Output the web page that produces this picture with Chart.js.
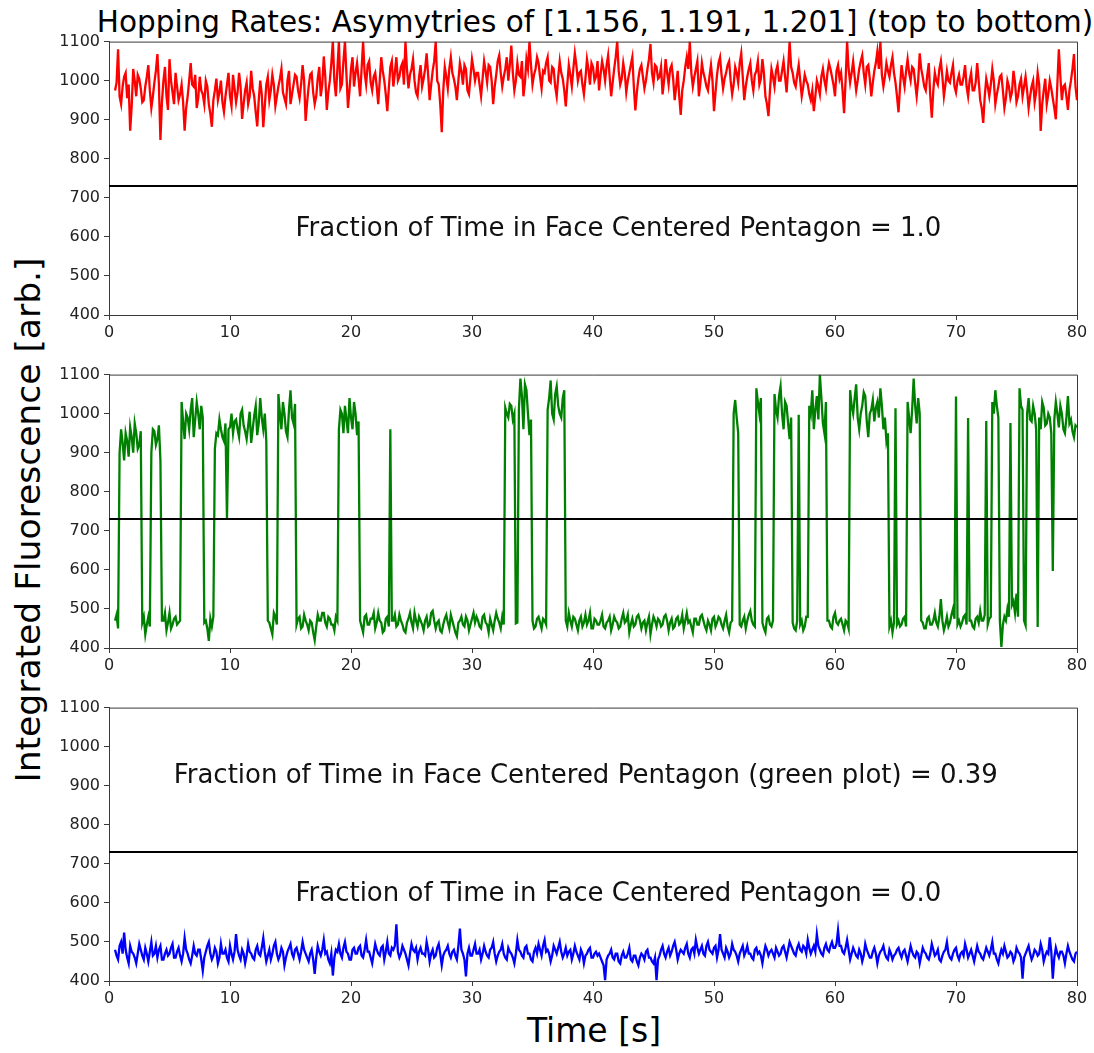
<!DOCTYPE html>
<html>
<head>
<meta charset="utf-8">
<script src="https://cdn.jsdelivr.net/npm/chart.js@4.4.1/dist/chart.umd.min.js"></script>
<style>
  html, body { margin: 0; padding: 0; background: #ffffff; }
  body { width: 1094px; height: 1053px; position: relative; overflow: hidden; font-family: "DejaVu Sans", sans-serif; }
  canvas.panel { position: absolute; left: 0; }
  .lbl { position: absolute; color: #000; white-space: nowrap; font-family: "DejaVu Sans", sans-serif; line-height: 1; }
</style>
</head>
<body>
<div class="lbl" id="title" style="left:595px; top:8px; font-size:29.5px; transform:translateX(-50%);">Hopping Rates: Asymytries of [1.156, 1.191, 1.201] (top to bottom)</div>
<div class="lbl" id="ylab" style="left:28px; top:520px; font-size:34.5px; transform:translate(-50%,-50%) rotate(-90deg);">Integrated Fluorescence [arb.]</div>
<div class="lbl" id="xlab" style="left:594px; top:1030px; font-size:33px; transform:translate(-50%,-50%);">Time [s]</div>
<canvas class="panel" id="c1" width="1094" height="317" style="top:28px;"></canvas>
<canvas class="panel" id="c2" width="1094" height="317" style="top:361px;"></canvas>
<canvas class="panel" id="c3" width="1094" height="317" style="top:694px;"></canvas>
<script>
// ---- sampling grid (seconds) ----
const T_START = 0.5;
const T_STEP = 0.125;
const THRESHOLD = 730;
const X_TICKS = [0, 10, 20, 30, 40, 50, 60, 70, 80];
const Y_TICKS = [400, 500, 600, 700, 800, 900, 1000, 1100];

// ---- top panel (red), asymmetry 1.156 ---- (one row = 5 s)
const redValues = [
  975,995,1080,960,940,985,1010,1020,955,990,872,935,1030,1000,960,1015,1005,980,945,950,985,1010,1040,975,930,960,995,1025,1068,990,848,945,1000,1035,960,925,1055,1000,970,940,
  1020,985,950,965,990,945,872,930,960,1000,1045,990,985,1015,930,955,1010,975,965,940,1000,985,940,915,882,950,975,1005,950,970,1000,945,920,960,990,1020,960,935,1015,980,
  945,970,1020,985,902,940,975,995,940,960,1025,980,960,920,883,950,1000,965,881,935,990,1010,950,975,1015,990,935,960,985,1005,1030,970,955,940,1000,1025,940,965,990,1015,
  1010,975,955,990,1040,1000,897,945,985,1015,1020,970,940,960,1005,1035,960,990,1062,1010,925,970,1000,1045,1100,1000,960,1030,1100,980,990,1050,1100,1015,930,975,1030,1060,985,1020,
  1045,1005,960,1030,1100,1020,990,1040,1050,995,975,1010,1020,985,940,1000,1060,1025,1000,965,922,980,1035,1050,985,1020,1060,1000,1010,1035,1045,990,1100,1030,980,1015,1030,1055,1000,970,
  960,1010,1040,985,1005,1030,1070,1015,950,990,1025,1050,1100,1000,990,940,868,975,1035,1010,980,1030,1060,1020,1005,985,950,1000,1045,1025,990,1040,1030,975,965,1010,1055,1030,1000,1020,
  1020,990,960,1005,1050,1025,995,1040,1035,1000,940,985,1015,1050,1065,1020,985,1010,1030,1060,1000,1040,1090,1020,975,1000,1045,1015,1010,1050,960,995,1055,1030,1100,1040,990,1015,1030,1060,
  1045,1010,980,1025,1020,1045,1060,1000,995,1035,1030,985,960,1010,1050,1020,1005,975,934,990,1040,1015,985,1030,1070,1040,1000,1020,1025,990,965,1005,1055,1030,990,1045,1035,1000,1010,1050,
  975,1015,1050,1030,1000,1040,1065,1010,960,995,1030,1060,1100,1025,990,1005,1045,1020,970,1000,1020,1040,1060,985,924,970,1005,1030,1040,1010,980,1000,1030,1055,1094,1020,995,1040,1035,1005,
  1010,1035,965,1000,1055,1020,990,1030,1040,1005,950,985,1025,960,912,975,1000,1035,1060,1030,1100,1020,985,1010,1030,1050,960,995,1045,1020,1005,985,975,1010,1040,1000,922,970,1015,1045,
  1060,1015,980,1005,1020,1040,1050,1000,965,990,1035,1020,995,1045,1070,1010,950,985,1010,1030,1045,1000,975,1015,1025,1050,990,1005,1055,1020,960,940,909,975,1030,1010,985,1025,1040,1000,
  1000,1025,1050,1010,970,1030,1100,1035,1020,995,985,1015,1040,1000,960,985,1015,1000,990,965,950,975,922,960,1000,985,965,1010,1030,1000,980,1020,1045,1030,1010,990,960,1025,1040,1005,
  1020,975,917,1000,1100,1030,995,1020,1050,1010,975,1000,1030,1050,1065,1020,990,1035,1040,1005,960,995,1025,1045,1075,1030,1100,1015,985,1010,1045,1025,1010,1040,1060,1020,995,960,919,985,
  1040,1010,985,1025,1055,1020,1000,1035,1030,995,960,1000,1070,1030,1010,985,975,1015,1045,960,905,975,1020,1000,990,1030,1050,1010,960,990,1025,1000,995,1020,1040,985,970,1000,1015,990,
  990,1010,1040,985,960,1000,1020,975,975,995,1045,1000,950,930,892,960,1005,985,960,990,1030,1000,940,965,985,1010,1015,975,930,955,1000,985,955,970,1025,995,945,960,990,1005,
  960,985,1010,975,930,960,985,1000,945,970,1020,990,871,940,975,1005,940,965,1000,980,955,930,901,990,1080,1010,950,985,990,960,925,975,1000,1030,1068,985,950
];

// ---- middle panel (green), asymmetry 1.191 ----
const greenValues = [
  470,485,450,900,960,925,880,950,930,890,965,940,900,975,950,910,920,955,465,480,435,460,480,455,900,960,955,920,935,970,880,470,470,490,445,465,490,450,460,475,
  480,460,465,470,1030,980,935,1000,990,960,1010,1040,940,985,1030,1000,960,1020,990,465,470,450,418,475,455,480,910,950,945,985,960,940,930,975,730,960,965,1000,950,980,
  985,960,940,1000,1010,970,955,935,970,1005,925,960,995,1020,945,975,1040,990,960,1000,930,470,465,450,435,490,480,460,1050,1000,960,1030,1000,955,940,1010,1060,990,975,1025,
  460,475,480,450,455,485,470,460,445,470,465,440,420,455,485,470,470,490,490,465,455,480,475,460,460,445,480,470,960,1010,1000,950,1020,985,950,1040,990,960,1030,1000,
  945,980,470,455,440,480,485,460,460,475,475,490,450,465,490,470,465,440,445,475,480,455,960,470,470,485,455,460,485,470,460,445,440,465,475,490,465,450,490,470,
  455,480,470,460,445,470,480,455,460,490,495,470,450,465,470,445,440,460,475,485,465,450,485,470,455,440,430,465,470,480,460,455,480,470,445,460,475,490,465,480,
  470,455,450,480,485,465,460,440,475,460,445,470,490,475,465,450,480,460,1015,1000,990,1025,1020,985,1000,463,465,1010,1090,1045,960,1075,1060,1000,945,985,470,450,455,475,
  480,465,450,475,470,460,1010,1040,1085,1000,985,1050,1070,1020,1000,990,1040,1060,470,455,490,470,455,480,475,460,445,470,480,455,465,485,460,470,490,450,450,475,470,460,
  460,470,485,455,450,465,470,480,445,460,480,470,465,450,455,475,490,465,470,485,440,460,475,455,460,480,485,470,450,465,470,445,465,480,435,460,480,470,455,475,
  470,455,460,480,485,470,445,465,475,450,455,475,480,460,465,485,450,470,490,465,470,455,440,475,475,460,460,480,485,470,455,445,470,460,445,475,480,455,465,480,
  475,460,450,470,485,455,440,465,470,1000,1035,990,950,460,455,470,480,450,470,485,495,470,460,455,1065,1030,1000,1040,465,450,440,475,480,460,455,470,1050,1010,990,1045,
  1070,1000,960,1030,1020,975,935,990,465,450,445,470,997,460,470,445,455,480,480,1020,1000,1060,960,1010,1045,985,1100,1040,975,950,1030,470,470,455,450,480,490,465,460,470,
  475,460,445,470,465,450,1060,1020,1000,1040,1075,990,960,1000,1020,1055,1045,980,940,1000,1010,1035,980,1015,1030,990,1065,1020,960,990,930,950,455,470,440,465,1014,460,470,455,
  460,475,480,455,1030,990,950,1010,1090,1020,975,1040,1000,470,465,450,450,475,480,460,460,470,490,465,455,480,525,470,445,460,480,455,465,485,500,475,1044,460,470,455,
  465,480,485,460,989,470,470,455,450,475,480,465,495,470,470,485,981,460,475,480,1030,1000,1060,1020,990,470,403,460,480,470,500,480,976,510,520,490,539,480,1065,1020,
  1010,470,458,1000,1040,985,980,1020,1000,960,454,990,960,1030,1015,970,975,1000,990,950,597,985,1030,1000,965,1020,1000,960,950,990,1045,975,985,955,940,970,965
];

// ---- bottom panel (blue), asymmetry 1.201 ----
const blueValues = [
  480,465,455,490,500,470,524,480,460,445,490,475,470,460,445,470,495,480,465,455,485,470,450,475,500,465,470,490,460,480,490,455,455,470,480,465,470,485,495,460,
  460,475,485,465,450,470,510,480,470,455,445,465,490,470,465,480,480,455,426,460,475,490,500,470,455,465,485,475,445,460,495,470,470,480,460,450,490,470,455,475,
  520,480,465,455,480,470,445,465,495,475,470,460,455,480,490,470,465,485,510,475,450,465,480,455,470,490,500,470,455,465,485,475,440,460,475,485,495,470,460,480,
  485,470,455,475,500,480,470,460,450,470,480,455,418,460,490,475,465,480,505,470,475,455,445,470,414,460,480,475,495,470,460,485,500,475,470,455,455,480,485,470,
  470,485,490,465,460,480,505,475,475,460,445,470,495,480,470,465,485,490,455,475,500,470,465,485,480,490,545,475,460,470,490,480,470,455,440,470,495,480,475,485,
  455,475,485,470,470,465,500,480,450,470,480,460,465,485,495,470,440,465,475,480,490,470,460,475,480,465,455,490,534,480,470,455,412,470,485,465,465,480,495,470,
  470,480,455,470,490,475,465,460,480,485,500,470,450,465,475,480,495,470,460,455,485,475,470,460,445,470,505,480,475,465,460,485,490,470,470,455,450,475,485,470,
  495,480,465,490,505,475,480,470,450,465,490,480,470,485,500,475,460,470,485,465,475,480,455,470,490,475,465,455,480,470,445,465,470,480,485,460,460,470,475,465,
  470,460,450,440,402,455,465,470,480,460,455,470,470,450,445,465,475,460,460,470,485,455,450,465,465,450,440,460,470,465,455,475,480,460,460,450,445,460,402,455,
  465,480,490,470,460,475,485,465,475,490,500,480,455,470,480,475,470,485,495,470,460,480,485,470,505,485,470,480,490,470,465,490,500,480,475,470,485,490,460,480,
  520,480,470,460,485,475,460,470,495,480,475,465,450,470,480,490,465,475,490,470,470,460,455,480,485,470,475,465,445,470,490,480,465,475,480,470,460,485,475,465,
  470,485,490,475,460,480,500,490,480,470,465,485,495,480,475,490,485,470,505,485,470,480,490,475,520,490,480,470,465,485,495,480,475,490,500,485,485,495,530,490,
  490,475,470,485,505,480,455,470,485,475,465,460,480,470,450,465,495,480,470,460,460,475,485,470,445,465,475,480,490,470,460,455,480,470,455,465,470,480,485,470,
  460,475,480,465,450,470,490,475,465,460,475,470,445,465,485,475,470,460,455,470,495,480,465,470,480,455,450,465,475,480,500,470,460,455,470,480,485,465,455,470,
  475,465,495,480,460,470,480,465,450,470,490,475,470,460,455,470,485,475,465,480,500,470,470,455,445,465,480,470,490,475,460,465,475,470,450,460,485,475,470,460,
  406,460,470,480,490,470,455,465,480,475,465,470,495,480,450,465,475,470,512,475,406,460,485,470,460,475,475,465,445,470,490,475,465,455,450,470,475
];

const panelTexts = [
  [{ text: "Fraction of Time in Face Centered Pentagon = 1.0", x: 42.1, y: 620 }],
  [],
  [
    { text: "Fraction of Time in Face Centered Pentagon (green plot) = 0.39", x: 39.4, y: 923 },
    { text: "Fraction of Time in Face Centered Pentagon = 0.0", x: 42.1, y: 622 }
  ]
];

function toPoints(values) {
  return values.map((v, i) => ({ x: T_START + i * T_STEP, y: v }));
}

const AXIS_COLOR = "#3a3a3a";
const TICK_FONT = { family: "DejaVu Sans", size: 16 };

const framePlugin = {
  id: "frame",
  afterDatasetsDraw(chart) {
    const { ctx, chartArea: a } = chart;
    ctx.save();
    ctx.strokeStyle = AXIS_COLOR;
    ctx.lineWidth = 1;
    ctx.beginPath();
    ctx.moveTo(a.left, a.top + 0.5);
    ctx.lineTo(a.right + 0.5, a.top + 0.5);
    ctx.lineTo(a.right + 0.5, a.bottom);
    ctx.stroke();
    const texts = chart.options.plugins.frame.texts || [];
    ctx.fillStyle = "#111";
    ctx.font = "26px 'DejaVu Sans'";
    ctx.textAlign = "center";
    ctx.textBaseline = "middle";
    texts.forEach(t => {
      ctx.fillText(t.text, chart.scales.x.getPixelForValue(t.x), chart.scales.y.getPixelForValue(t.y));
    });
    ctx.restore();
  }
};

function makePanel(id, values, color, texts) {
  const ctx = document.getElementById(id).getContext("2d");
  return new Chart(ctx, {
    type: "line",
    data: {
      datasets: [
        {
          data: [{ x: 0, y: THRESHOLD }, { x: 80, y: THRESHOLD }],
          borderColor: "#000000",
          borderWidth: 2,
          pointRadius: 0,
          tension: 0
        },
        {
          data: toPoints(values),
          borderColor: color,
          borderWidth: 2.3,
          pointRadius: 0,
          tension: 0
        }
      ]
    },
    options: {
      responsive: false,
      animation: false,
      devicePixelRatio: 1,
      events: [],
      layout: { padding: { top: 10, right: 17, bottom: 0, left: 0 } },
      plugins: {
        legend: { display: false },
        tooltip: { enabled: false },
        frame: { texts: texts }
      },
      scales: {
        x: {
          type: "linear",
          min: 0, max: 80,
          afterBuildTicks: s => { s.ticks = X_TICKS.map(v => ({ value: v })); },
          afterFit: s => { s.height = 30; },
          ticks: { font: TICK_FONT, color: "#222", padding: 3, maxRotation: 0, callback: v => String(v) },
          grid: { display: true, drawOnChartArea: false, drawTicks: true, tickLength: 5, color: AXIS_COLOR },
          border: { display: true, color: AXIS_COLOR, width: 1 }
        },
        y: {
          type: "linear",
          min: 400, max: 1100,
          afterBuildTicks: s => { s.ticks = Y_TICKS.map(v => ({ value: v })); },
          afterFit: s => { s.width = 109; },
          ticks: { font: TICK_FONT, color: "#222", padding: 4, callback: v => String(v) },
          grid: { display: true, drawOnChartArea: false, drawTicks: true, tickLength: 5, color: AXIS_COLOR },
          border: { display: true, color: AXIS_COLOR, width: 1 }
        }
      }
    },
    plugins: [framePlugin]
  });
}

makePanel("c1", redValues, "#ff0000", panelTexts[0]);
makePanel("c2", greenValues, "#008000", panelTexts[1]);
makePanel("c3", blueValues, "#0000ff", panelTexts[2]);
</script>
</body>
</html>
